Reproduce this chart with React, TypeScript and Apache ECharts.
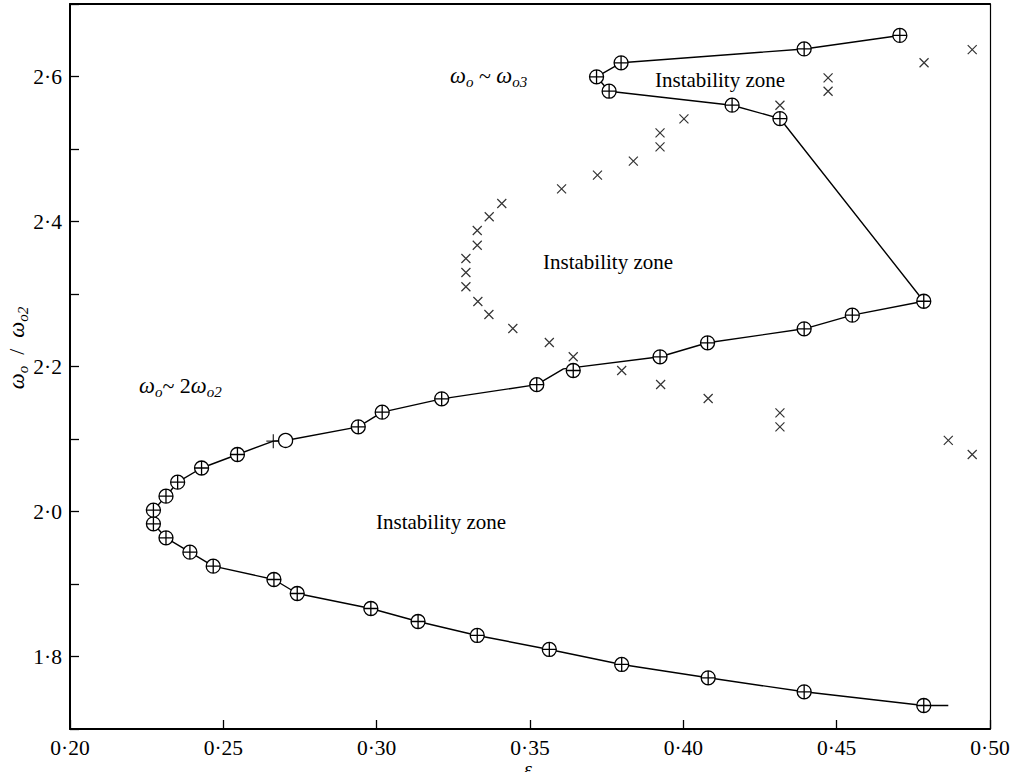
import React, { useEffect, useRef } from "react";
import * as echarts from "echarts";

// Line vertices (fitted curve), from bottom-right end going round to the top branch
const curveX = [0.4864, 0.4784, 0.4394, 0.4081, 0.3799, 0.3563, 0.3328, 0.3135, 0.2981, 0.2741, 0.2665, 0.2467, 0.2391, 0.2313, 0.2272, 0.2272, 0.2313, 0.2351, 0.2429, 0.2546, 0.2663, 0.2703, 0.294, 0.3018, 0.3212, 0.3522, 0.3609, 0.3924, 0.4079, 0.4394, 0.4551, 0.4784, 0.4315, 0.4159, 0.3758, 0.3717, 0.3797, 0.4394, 0.4706];
const curveY = [1.7324, 1.7324, 1.7513, 1.7706, 1.789, 1.8097, 1.829, 1.8483, 1.8662, 1.8869, 1.9062, 1.9246, 1.9439, 1.9637, 1.983, 2.0018, 2.0211, 2.0404, 2.06, 2.0786, 2.097, 2.098, 2.1168, 2.137, 2.1554, 2.175, 2.1968, 2.2134, 2.2327, 2.252, 2.2708, 2.29, 2.542, 2.5604, 2.5797, 2.5996, 2.6189, 2.638, 2.6566];

// Circle-plus markers
const ringX = [0.4784, 0.4394, 0.4081, 0.3799, 0.3563, 0.3328, 0.3135, 0.2981, 0.2741, 0.2665, 0.2467, 0.2391, 0.2313, 0.2272, 0.2272, 0.2313, 0.2351, 0.2429, 0.2546, 0.294, 0.3018, 0.3212, 0.3522, 0.3641, 0.3924, 0.4079, 0.4394, 0.4551, 0.4784, 0.4315, 0.4159, 0.3758, 0.3717, 0.3797, 0.4394, 0.4706];
const ringY = [1.7324, 1.7513, 1.7706, 1.789, 1.8097, 1.829, 1.8483, 1.8662, 1.8869, 1.9062, 1.9246, 1.9439, 1.9637, 1.983, 2.0018, 2.0211, 2.0404, 2.06, 2.0786, 2.1168, 2.137, 2.1554, 2.175, 2.1945, 2.2134, 2.2327, 2.252, 2.2708, 2.29, 2.542, 2.5604, 2.5797, 2.5996, 2.6189, 2.638, 2.6566];

// Single plus and single open circle
const plusX = [0.2663];
const plusY = [2.097];
const openX = [0.2703];
const openY = [2.098];

// Cross markers
const crossX = [0.4942, 0.4785, 0.4472, 0.4472, 0.4315, 0.4002, 0.3924, 0.3924, 0.3837, 0.372, 0.3603, 0.3408, 0.3367, 0.3328, 0.3328, 0.3291, 0.3291, 0.3291, 0.333, 0.3366, 0.3444, 0.3563, 0.3641, 0.3799, 0.3926, 0.4081, 0.4315, 0.4315, 0.4864, 0.4942];
const crossY = [2.637, 2.6189, 2.5982, 2.5797, 2.5604, 2.5416, 2.5223, 2.503, 2.4832, 2.464, 2.445, 2.4248, 2.4065, 2.3876, 2.3673, 2.349, 2.3297, 2.31, 2.2897, 2.2717, 2.2524, 2.2331, 2.2134, 2.1945, 2.1752, 2.1559, 2.1361, 2.1168, 2.098, 2.0786];

const xMin = 0.2, xMax = 0.5, xStep = 0.05;
const yMin = 1.7, yMax = 2.7, yStep = 0.1;

const FONT = "'Liberation Serif', 'DejaVu Serif', serif";

const zip = (a: number[], b: number[]) => a.map((v, i) => [v, b[i]]);

const RING = "path://M10,0 A10,10 0 1,1 10,20 A10,10 0 1,1 10,0 Z M0,10 L20,10 M10,0 L10,20";
const PLUS = "path://M0,10 L20,10 M10,0 L10,20";
const CROSS = "path://M0,0 L10,10 M10,0 L0,10";

const omegaRich = {
  w: { fontSize: 22.5, fontFamily: FONT, fontStyle: "italic", lineHeight: 28, verticalAlign: "middle", fill: "#000" },
  s: { fontSize: 15, fontFamily: FONT, fontStyle: "italic", lineHeight: 17, verticalAlign: "bottom", fill: "#000" },
  n: { fontSize: 22, fontFamily: FONT, lineHeight: 28, verticalAlign: "middle", fill: "#000" },
};

export default function App() {
  const ref = useRef<HTMLDivElement>(null);
  useEffect(() => {
    document.body.style.margin = "0";
    if (!ref.current) return;
    const chart = echarts.init(ref.current, null, { renderer: "svg" });
    const axisLabelBase = { color: "#000", fontSize: 21.5, fontFamily: FONT };
    const zoneText = (x: number, y: number) => ({
      type: "text",
      left: x,
      top: y,
      silent: true,
      style: { text: "Instability zone", fontSize: 21, fontFamily: FONT, fill: "#000" },
    });
    chart.setOption({
      animation: false,
      backgroundColor: "#fff",
      grid: { left: 70, right: 31, top: 4, bottom: 43 },
      xAxis: [
        {
          type: "value", min: xMin, max: xMax, interval: xStep, position: "bottom",
          axisLine: { onZero: false, lineStyle: { color: "#000", width: 2 } },
          axisTick: { inside: true, length: 9, lineStyle: { color: "#000", width: 1.3 } },
          axisLabel: { ...axisLabelBase, margin: 8, formatter: (v: number) => v.toFixed(2).replace(".", "\u00B7") },
          splitLine: { show: false },
        },
        {
          type: "value", min: xMin, max: xMax, position: "top",
          axisLine: { onZero: false, lineStyle: { color: "#000", width: 2 } },
          axisTick: { show: false }, axisLabel: { show: false }, splitLine: { show: false },
        },
      ],
      yAxis: [
        {
          type: "value", min: yMin, max: yMax, interval: yStep, position: "left",
          axisLine: { onZero: false, lineStyle: { color: "#000", width: 2 } },
          axisTick: { inside: true, length: 9, lineStyle: { color: "#000", width: 1.3 } },
          axisLabel: {
            ...axisLabelBase, margin: 8,
            formatter: (v: number) => {
              const k = Math.round(v * 10);
              return k % 2 === 0 ? (k / 10).toFixed(1).replace(".", "\u00B7") : "";
            },
          },
          splitLine: { show: false },
        },
        {
          type: "value", min: yMin, max: yMax, position: "right",
          axisLine: { onZero: false, lineStyle: { color: "#000", width: 1.2 } },
          axisTick: { show: false }, axisLabel: { show: false }, splitLine: { show: false },
        },
      ],
      series: [
        {
          type: "line", data: zip(curveX, curveY), showSymbol: false, symbol: "none",
          lineStyle: { color: "#000", width: 1.4 }, silent: true, z: 2,
        },
        {
          type: "scatter", data: zip(ringX, ringY), symbol: RING, symbolSize: 14,
          itemStyle: { color: "#fff", borderColor: "#000", borderWidth: 1.3, opacity: 1 }, silent: true, z: 3,
        },
        {
          type: "scatter", data: zip(plusX, plusY), symbol: PLUS, symbolSize: 14,
          itemStyle: { color: "none", borderColor: "#000", borderWidth: 1.3 }, silent: true, z: 3,
        },
        {
          type: "scatter", data: zip(openX, openY), symbol: "circle", symbolSize: 14,
          itemStyle: { color: "#fff", borderColor: "#000", borderWidth: 1.3, opacity: 1 }, silent: true, z: 3,
        },
        {
          type: "scatter", data: zip(crossX, crossY), symbol: CROSS, symbolSize: 9,
          itemStyle: { color: "none", borderColor: "#000", borderWidth: 1.2 }, silent: true, z: 3,
        },
      ],
      graphic: [
        zoneText(655, 69),
        zoneText(543, 251),
        zoneText(376, 511),
        {
          type: "text", left: 450, top: 64, silent: true,
          style: { text: "{w|ω}{s|o}{n| ~ }{w|ω}{s|o3}", rich: omegaRich },
        },
        {
          type: "text", left: 139, top: 374, silent: true,
          style: { text: "{w|ω}{s|o}{n|~ 2}{w|ω}{s|o2}", rich: omegaRich },
        },
        {
          type: "text", x: 16, y: 348, rotation: Math.PI / 2, silent: true,
          style: {
            text: "{w|ω}{s|o}{n|  /  }{w|ω}{s|o2}", rich: omegaRich,
            align: "center", verticalAlign: "middle",
          },
        },
        {
          type: "text", left: 524, top: 759, silent: true,
          style: { text: "ε", fontSize: 20, fontFamily: FONT, fontStyle: "italic", fill: "#000" },
        },
      ],
    });
    return () => chart.dispose();
  }, []);
  return <div ref={ref} style={{ width: 1021, height: 772 }} />;
}
